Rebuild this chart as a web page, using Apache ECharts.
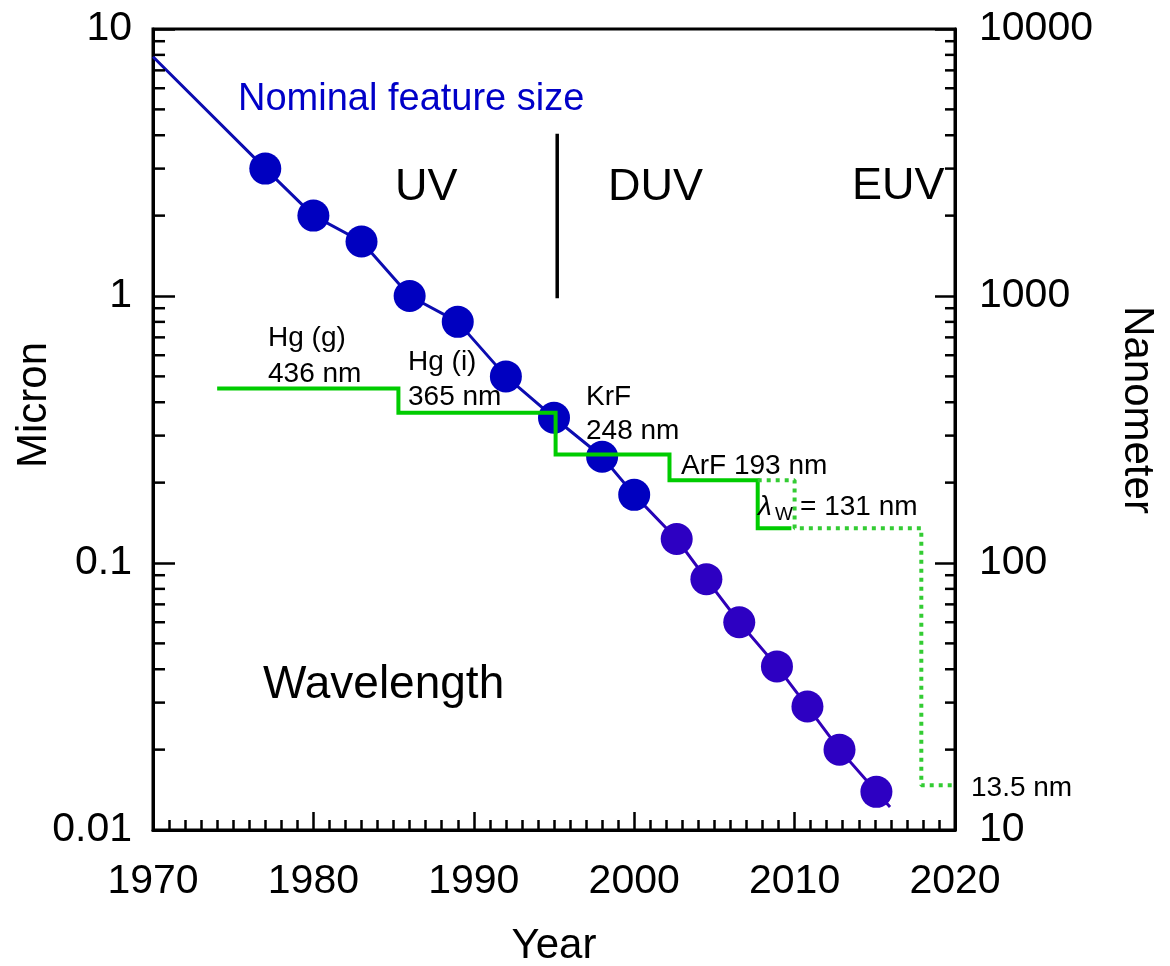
<!DOCTYPE html>
<html>
<head>
<meta charset="utf-8">
<script src="https://cdn.jsdelivr.net/npm/echarts@6/dist/echarts.min.js"></script>
<style>
html,body{margin:0;padding:0;background:#fff;}
#chart{width:1170px;height:966px;}
</style>
</head>
<body>
<div id="chart"></div>
<script>
// ---- data ----
const nodeYears = [1977, 1980, 1983, 1986, 1989, 1992, 1995, 1998, 2000, 2002.65, 2004.5, 2006.55, 2008.9, 2010.8, 2012.8, 2015.1];
const nodeSizeMicron = [3.0, 2.0, 1.6, 1.0, 0.8, 0.5, 0.35, 0.25, 0.18, 0.123, 0.087, 0.06, 0.041, 0.029, 0.02, 0.0139];
const trendStartYear = 1970, trendStartMicron = 7.87;
const trendEndYear = 2015.95, trendEndMicron = 0.0122;
const lithoYears = [1974, 1985.3, 1995.1, 2002.2, 2007.7, 2009.8];
const lithoWavelengthMicron = [0.45, 0.365, 0.255, 0.204, 0.135, 0.135];
const euvYears = [2007.7, 2010.0, 2017.9, 2020];
const euvWavelengthMicron = [0.204, 0.135, 0.0147, 0.0147];
const boundaryYears = [1995.2, 1995.2];
const boundaryMicron = [4.05, 0.98];
const xTicks = { min: 1970, max: 2020, interval: 10 };
const micronRange = { min: 0.01, max: 10 };
const nanometerRange = { min: 10, max: 10000 };
const logMinorMicron = [0.02,0.03,0.04,0.05,0.06,0.07,0.08,0.09,0.2,0.3,0.4,0.5,0.6,0.7,0.8,0.9,2,3,4,5,6,7,8,9];

const zip = (a, b) => a.map((v, i) => [v, b[i]]);
const FONT = '"Liberation Sans", Arial, sans-serif';

const chart = echarts.init(document.getElementById('chart'), null, { renderer: 'canvas' });

const trendData = [[trendStartYear, trendStartMicron]].concat(zip(nodeYears, nodeSizeMicron), [[trendEndYear, trendEndMicron]]);

const option = {
  animation: false,
  backgroundColor: '#fff',
  textStyle: { fontFamily: FONT },
  grid: { left: 153, right: 215, top: 29, bottom: 136, containLabel: false, outerBoundsMode: 'none',
          show: true, borderColor: '#000', borderWidth: 3, backgroundColor: '#fff' },
  xAxis: {
    type: 'value', min: xTicks.min, max: xTicks.max, interval: xTicks.interval,
    name: 'Year', nameLocation: 'middle', nameGap: 95,
    nameTextStyle: { fontSize: 42, color: '#000', fontFamily: FONT },
    axisLine: { show: true, lineStyle: { color: '#000', width: 3 } },
    axisTick: { show: true, inside: true, length: 18, lineStyle: { color: '#000', width: 2.5 } },
    minorTick: { show: true, splitNumber: 10, length: 10, lineStyle: { color: '#000', width: 2.5 } },
    axisLabel: { fontSize: 41, color: '#000', margin: 31, fontFamily: FONT, formatter: v => String(v) },
    splitLine: { show: false }, minorSplitLine: { show: false }
  },
  yAxis: [
    {
      type: 'log', logBase: 10, min: micronRange.min, max: micronRange.max,
      position: 'left',
      axisLine: { show: true, lineStyle: { color: '#000', width: 3 } },
      axisTick: { show: true, inside: true, length: 22, lineStyle: { color: '#000', width: 2.5 } },
      axisLabel: { fontSize: 41, color: '#000', margin: 21, fontFamily: FONT,
        formatter: v => String(+Number(v).toPrecision(3)) },
      splitLine: { show: false }
    },
    {
      type: 'log', logBase: 10, min: nanometerRange.min, max: nanometerRange.max,
      position: 'right',
      axisLine: { show: true, lineStyle: { color: '#000', width: 3 } },
      axisTick: { show: true, inside: true, length: 20, lineStyle: { color: '#000', width: 2.5 } },
      axisLabel: { fontSize: 41, color: '#000', margin: 24, fontFamily: FONT,
        formatter: v => String(Math.round(v)) },
      splitLine: { show: false }
    }
  ],
  series: [
    {
      // minor log ticks on both vertical axes
      type: 'custom', yAxisIndex: 0, clip: false, silent: true, z: 5,
      data: logMinorMicron.map(v => [xTicks.min, v]),
      renderItem: function (params, api) {
        const v = api.value(1);
        const pL = api.coord([xTicks.min, v]);
        const pR = api.coord([xTicks.max, v]);
        return {
          type: 'group',
          children: [
            { type: 'line', shape: { x1: pL[0], y1: pL[1], x2: pL[0] + 12, y2: pL[1] }, style: { stroke: '#000', lineWidth: 2.5 } },
            { type: 'line', shape: { x1: pR[0] - 10, y1: pR[1], x2: pR[0], y2: pR[1] }, style: { stroke: '#000', lineWidth: 2.5 } }
          ]
        };
      }
    },
    {
      name: 'Nominal feature size trend', type: 'line', yAxisIndex: 0,
      data: trendData, showSymbol: false, z: 2,
      lineStyle: { width: 3, color: new echarts.graphic.LinearGradient(0, 0, 1, 0, [
        { offset: 0, color: '#0c0cb0' }, { offset: 0.62, color: '#0c0cb0' },
        { offset: 0.7, color: '#2e00b8' }, { offset: 1, color: '#3200b8' }]) }
    },
    {
      name: 'Nominal feature size', type: 'scatter', yAxisIndex: 0,
      data: zip(nodeYears, nodeSizeMicron), symbol: 'circle', symbolSize: 32, z: 3,
      itemStyle: { opacity: 1, color: p => (p.value[0] <= 2000 ? '#0000C0' : '#2D00C2') }
    },
    {
      name: 'Boundary', type: 'line', yAxisIndex: 0,
      data: zip(boundaryYears, boundaryMicron), showSymbol: false, z: 2,
      lineStyle: { width: 3.5, color: '#000' }
    },
    {
      name: 'Wavelength', type: 'line', yAxisIndex: 0, step: 'end',
      data: zip(lithoYears, lithoWavelengthMicron), showSymbol: false, z: 6,
      lineStyle: { width: 4, color: '#00CC00', join: 'miter' }
    },
    {
      name: 'EUV wavelength', type: 'line', yAxisIndex: 0, step: 'end',
      data: zip(euvYears, euvWavelengthMicron), showSymbol: false, z: 6,
      lineStyle: { width: 4, color: '#33CC33', type: [4, 5] }
    }
  ],
  graphic: [
    { type: 'text', x: 34, y: 405, rotation: Math.PI / 2, z: 10,
      style: { text: 'Micron', font: '42px ' + FONT, fill: '#000', align: 'center', verticalAlign: 'middle' } },
    { type: 'text', x: 1137, y: 410, rotation: -Math.PI / 2, z: 10,
      style: { text: 'Nanometer', font: '42px ' + FONT, fill: '#000', align: 'center', verticalAlign: 'middle' } },
    { type: 'text', x: 238, y: 100, z: 10,
      style: { text: 'Nominal feature size', font: '38px ' + FONT, fill: '#0000C8', align: 'left', verticalAlign: 'middle' } },
    { type: 'text', x: 395, y: 188, z: 10,
      style: { text: 'UV', font: '45px ' + FONT, fill: '#000', align: 'left', verticalAlign: 'middle' } },
    { type: 'text', x: 608, y: 188, z: 10,
      style: { text: 'DUV', font: '45px ' + FONT, fill: '#000', align: 'left', verticalAlign: 'middle' } },
    { type: 'text', x: 852, y: 187, z: 10,
      style: { text: 'EUV', font: '45px ' + FONT, fill: '#000', align: 'left', verticalAlign: 'middle' } },
    { type: 'text', x: 263, y: 685, z: 10,
      style: { text: 'Wavelength', font: '46px ' + FONT, fill: '#000', align: 'left', verticalAlign: 'middle' } },
    { type: 'text', x: 268, y: 338, z: 10,
      style: { text: 'Hg (g)', font: '28px ' + FONT, fill: '#000', align: 'left', verticalAlign: 'middle' } },
    { type: 'text', x: 268, y: 374, z: 10,
      style: { text: '436 nm', font: '28px ' + FONT, fill: '#000', align: 'left', verticalAlign: 'middle' } },
    { type: 'text', x: 408, y: 362, z: 10,
      style: { text: 'Hg (i)', font: '28px ' + FONT, fill: '#000', align: 'left', verticalAlign: 'middle' } },
    { type: 'text', x: 408, y: 397, z: 10,
      style: { text: '365 nm', font: '28px ' + FONT, fill: '#000', align: 'left', verticalAlign: 'middle' } },
    { type: 'text', x: 586, y: 397, z: 10,
      style: { text: 'KrF', font: '28px ' + FONT, fill: '#000', align: 'left', verticalAlign: 'middle' } },
    { type: 'text', x: 586, y: 431, z: 10,
      style: { text: '248 nm', font: '28px ' + FONT, fill: '#000', align: 'left', verticalAlign: 'middle' } },
    { type: 'text', x: 681, y: 466, z: 10,
      style: { text: 'ArF 193 nm', font: '28px ' + FONT, fill: '#000', align: 'left', verticalAlign: 'middle' } },
    { type: 'text', x: 758, y: 507, z: 10,
      style: { text: 'λ', font: 'italic 28px ' + FONT, fill: '#000', align: 'left', verticalAlign: 'middle' } },
    { type: 'text', x: 775, y: 515, z: 10,
      style: { text: 'W', font: '19px ' + FONT, fill: '#000', align: 'left', verticalAlign: 'middle' } },
    { type: 'text', x: 800, y: 507, z: 10,
      style: { text: '= 131 nm', font: '28px ' + FONT, fill: '#000', align: 'left', verticalAlign: 'middle' } },
    { type: 'text', x: 971, y: 788, z: 10,
      style: { text: '13.5 nm', font: '28px ' + FONT, fill: '#000', align: 'left', verticalAlign: 'middle' } }
  ]
};
chart.setOption(option);
</script>
</body>
</html>
